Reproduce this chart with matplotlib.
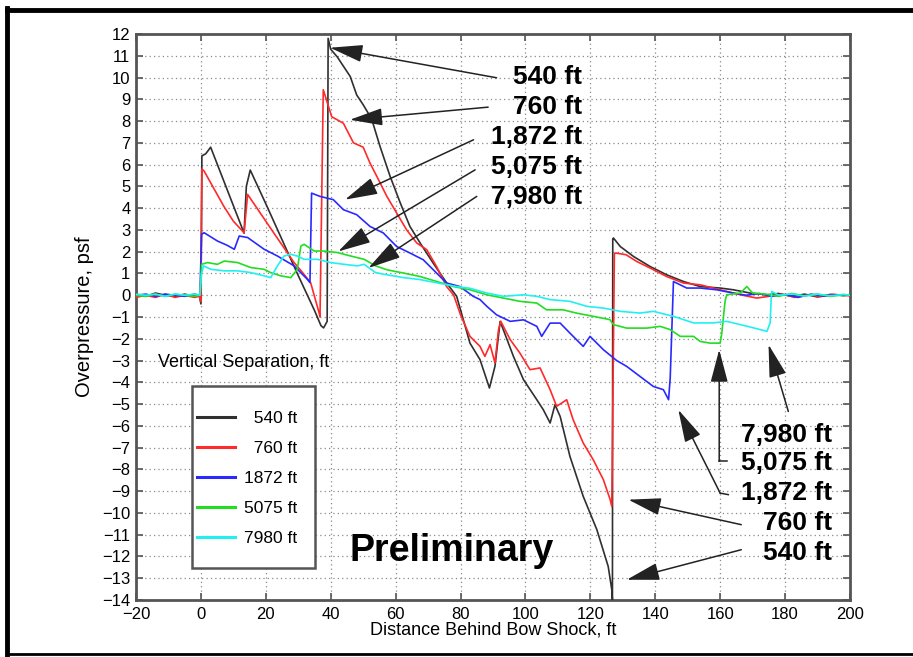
import matplotlib
matplotlib.use("Agg")
import matplotlib.pyplot as plt
from matplotlib.lines import Line2D
from matplotlib.patches import Rectangle

# ---------------- data ----------------
x_540 = [-20, -17, -14, -11, -8, -5, -2, -0.5, 0, 0.3, 1.5, 3, 6, 9, 12, 13.3, 14, 15.2, 20, 25, 30, 35, 37, 37.8,
         38.9, 39.2, 40, 42, 44, 46, 48, 50, 52.6, 55.2, 58.3, 61.4, 64.4, 67.5, 71.5, 75.7, 78.8, 81, 82.9, 86,
         88.9, 90.6, 92.2, 96.3, 99.4, 103.5, 105.5, 107.6, 109.1, 110.7, 113.7, 117.8, 122, 125.5, 126.6, 126.8,
         126.9, 127.1, 129.2, 133.3, 138.4, 143.5, 148.7, 153.8, 160, 164.1, 169.2, 174.4, 178, 182, 186, 190,
         194, 198, 200]
y_540 = [0.05, -0.05, 0.1, 0.0, -0.05, 0.05, -0.05, 0.0, -0.4, 6.4, 6.5, 6.8, 5.65, 4.5, 3.35, 2.85, 5.0, 5.75,
         4.2, 2.55, 0.9, -0.7, -1.4, -1.5, -1.2, 11.8, 11.3, 10.95, 10.5, 10.05, 9.2, 8.75, 8.1, 6.83, 5.46, 4.25,
         3.16, 2.41, 1.49, 0.57, -0.05, -1.2, -2.2, -2.96, -4.26, -3.27, -1.2, -2.81, -3.88, -4.8, -5.26, -5.87,
         -5.03, -5.57, -7.4, -9.24, -10.77, -12.46, -13.53, -14.0, 2.58, 2.63, 2.24, 1.78, 1.32, 0.94, 0.63, 0.40,
         0.33, 0.25, 0.1, 0.02, 0.08, -0.05, 0.05, -0.08, 0.04, -0.02, 0.03]

x_760 = [-20, -17, -14, -11, -8, -5, -2, -0.5, 0, 0.3, 1, 4, 7, 10, 13.3, 14.4, 18, 22, 26, 28.7, 31, 33.8, 36.4,
         36.7, 37.7, 40.3, 43.9, 47, 50, 52.1, 54.2, 57.3, 60.3, 63.4, 66.5, 69.6, 72.6, 75.7, 77.9, 80, 82.9, 86,
         87.5, 89.1, 90.6, 91.7, 92.4, 95.3, 98.3, 101.4, 104.5, 107.6, 109.6, 111.2, 112.7, 114.7, 117.8, 120.9,
         124, 126.1, 126.6, 127.4, 127.8, 131, 134.3, 138.4, 143.5, 148.7, 153.8, 160, 166.2, 171.3, 175, 179,
         183, 187, 191, 195, 200]
y_760 = [-0.1, 0.0, -0.1, 0.05, -0.1, 0.0, -0.1, -0.05, -0.3, 5.8, 5.7, 4.9, 4.1, 3.4, 2.87, 4.63, 3.84, 2.96,
         2.09, 1.5, 1.1, 0.58, -0.8, -1.0, 9.44, 8.2, 7.9, 7.0, 6.8, 6.07, 5.46, 4.54, 3.78, 3.0, 2.4, 2.09, 1.32,
         0.4, 0.0, -0.9, -1.89, -2.35, -2.81, -2.27, -3.11, -1.58, -1.2, -2.04, -2.66, -3.42, -3.34, -4.34, -5.1,
         -4.95, -4.8, -5.72, -6.79, -7.56, -8.47, -9.39, -9.7, 1.9, 1.94, 1.86, 1.55, 1.25, 0.86, 0.56, 0.48,
         0.25, 0.02, -0.13, -0.05, 0.05, -0.1, 0.02, -0.06, 0.04, -0.03]

x_1872 = [-20, -17, -14, -11, -8, -5, -2, -0.3, 0.2, 1, 5.1, 8, 10.3, 11.8, 14.4, 19.5, 23.6, 28.7, 32.8, 33.6,
          34.1, 36.7, 40.8, 43.9, 48, 52.1, 56.2, 60.3, 64.4, 68.5, 71.6, 75.7, 79.8, 83.9, 86, 88.1, 91.1, 95.3,
          99.4, 103.5, 105, 107.6, 110.7, 113.7, 117.8, 119.9, 124, 128.1, 131.2, 135.3, 139.4, 142.5, 144.1,
          144.6, 145.6, 149.7, 153.8, 158.9, 164.1, 168, 172, 176, 180, 184, 188, 192, 196, 200]
y_1872 = [0.0, 0.05, -0.05, 0.05, 0.0, -0.05, 0.05, 0.0, 2.8, 2.87, 2.49, 2.3, 2.11, 2.72, 2.65, 2.11, 1.8, 1.35,
          0.73, 0.58, 4.69, 4.54, 4.39, 3.93, 3.7, 3.16, 2.86, 2.24, 1.94, 1.63, 1.17, 0.56, 0.4, -0.05, -0.2,
          -0.51, -0.9, -1.2, -1.13, -1.43, -1.89, -1.28, -1.28, -1.74, -2.35, -1.89, -2.5, -3.0, -3.27, -3.73,
          -4.19, -4.34, -4.8, -3.8, 0.63, 0.33, 0.33, 0.25, 0.1, 0.0, 0.08, -0.05, 0.03, -0.1, 0.05, -0.04, 0.02,
          0.0]

x_5075 = [-20, -17, -14, -11, -8, -5, -2, -0.3, 0.2, 2, 5.1, 7.2, 11.3, 15.4, 19.5, 21.5, 24.6, 27.7, 29.7, 30.8,
          31.8, 34.9, 37.9, 42.1, 46.2, 50.3, 53.8, 57.3, 62.4, 67.5, 72.7, 77.8, 82.9, 88.1, 93.2, 98.3, 103.5,
          106.5, 111.6, 115.7, 120.9, 126, 127.1, 131.2, 137.4, 141.5, 144.6, 147.7, 151.8, 153.8, 156.9, 160,
          160.5, 161.5, 162, 166.2, 168.2, 170, 174, 178, 182, 186, 190, 194, 198, 200]
y_5075 = [0.0, -0.05, 0.05, -0.05, 0.05, 0.0, -0.05, 0.0, 1.42, 1.5, 1.42, 1.57, 1.5, 1.27, 1.19, 1.04, 0.89, 0.81,
          1.19, 2.26, 2.34, 2.03, 2.03, 1.96, 1.8, 1.65, 1.35, 1.17, 1.02, 0.86, 0.63, 0.40, 0.25, 0.02, -0.13,
          -0.28, -0.36, -0.67, -0.67, -0.82, -0.97, -1.12, -1.35, -1.51, -1.51, -1.43, -1.58, -1.89, -1.89, -2.12,
          -2.2, -2.2, -1.74, -0.28, 0.02, 0.1, 0.4, 0.1, 0.05, -0.05, 0.08, -0.03, 0.05, -0.05, 0.02, 0.0]

x_7980 = [-20, -17, -14, -11, -8, -5, -2, -0.3, 0.2, 0.8, 3.1, 7.2, 11.3, 15.4, 19.5, 21.5, 23.6, 25.6, 27.7, 29.7,
          31.8, 35.9, 40, 44.1, 48.2, 50.3, 53.8, 57.3, 62.4, 67.5, 72.7, 78.8, 82.9, 88.1, 93.2, 99.4, 103.5,
          107.6, 113.7, 118.9, 124, 129.2, 135.3, 139.4, 145.6, 151.8, 158, 162, 166.2, 170.3, 174.4, 175.4,
          175.7, 175.9, 178, 182, 186, 190, 194, 198, 200]
y_7980 = [0.05, 0.0, 0.05, -0.05, 0.05, 0.0, 0.05, 0.0, 1.0, 1.35, 1.19, 1.12, 1.12, 1.04, 0.89, 0.81, 1.35, 1.8,
          1.88, 1.8, 1.65, 1.65, 1.5, 1.42, 1.35, 1.42, 1.04, 0.94, 0.81, 0.72, 0.57, 0.40, 0.32, 0.10, -0.05,
          0.02, -0.05, -0.2, -0.28, -0.51, -0.59, -0.74, -0.82, -0.74, -0.97, -1.27, -1.27, -1.2, -1.35, -1.5,
          -1.66, -1.27, -0.2, 0.17, 0.0, 0.06, -0.04, 0.05, -0.03, 0.04, 0.0]

series_labels = ["  540 ft", "  760 ft", "1872 ft", "5075 ft", "7980 ft"]
series_colors = ["#303030", "#ff2a2a", "#2a2aff", "#22dd22", "#22f0f0"]

x_ticks = [-20, 0, 20, 40, 60, 80, 100, 120, 140, 160, 180, 200]
y_ticks = list(range(-14, 13))

# annotation labels: (text, label x, label y, tail x, tail y, tip x, tip y)
top_notes = [
    ("540 ft", 117.4, 10.04, 91.1, 9.99, 39.8, 11.37),
    ("760 ft", 117.4, 8.66, 88.5, 8.64, 45.9, 8.06),
    ("1,872 ft", 117.4, 7.28, 84.0, 7.14, 44.4, 4.39),
    ("5,075 ft", 117.4, 5.90, 84.5, 5.76, 42.3, 2.01),
    ("7,980 ft", 117.4, 4.52, 85.0, 4.54, 51.6, 1.25),
]
bottom_labels = ["7,980 ft", "5,075 ft", "1,872 ft", "760 ft", "540 ft"]
bottom_label_y = [-6.41, -7.71, -9.09, -10.46, -11.84]
bottom_label_x = 194.5

# ---------------- figure ----------------
narrow = ["Liberation Sans Narrow", "Liberation Sans", "DejaVu Sans"]
bold_font = ["Liberation Sans", "DejaVu Sans"]

fig = plt.figure(figsize=(9.13, 6.57), dpi=100)
ax = fig.add_axes([136 / 913, 1 - 600 / 657, 714 / 913, 566 / 657])

series = [(x_540, y_540), (x_760, y_760), (x_1872, y_1872), (x_5075, y_5075), (x_7980, y_7980)]
handles = []
for (xs, ys), c, lab in zip(series, series_colors, series_labels):
    h, = ax.plot(xs, ys, color=c, lw=1.2, label=lab, zorder=3)
    handles.append(h)

ax.set_xlim(-20, 200)
ax.set_ylim(-14, 12)
ax.set_xticks(x_ticks)
ax.set_yticks(y_ticks)
ax.set_xticklabels([str(v).replace("-", "\u2212") for v in x_ticks], family=narrow, fontsize=12)
ax.set_yticklabels([str(v).replace("-", "\u2212") for v in y_ticks], family=narrow, fontsize=12)
ax.tick_params(direction="in", top=True, right=True, length=5, width=1.2, color="#555555")
ax.tick_params(axis="x", pad=5)
ax.tick_params(axis="y", pad=4)
for s in ax.spines.values():
    s.set_color("#555555")
    s.set_linewidth(2)
ax.grid(True, linestyle=(0, (1, 2.5)), color="#8a8a8a", lw=0.9)
ax.set_axisbelow(True)

ax.set_xlabel("Distance Behind Bow Shock, ft", family=narrow, fontsize=13, labelpad=0)
ax.set_ylabel("Overpressure, psf", family=narrow, fontsize=14.5, labelpad=6)

ax.text(-13.2, -3.1, "Vertical Separation, ft", family=narrow, fontsize=13, va="center", ha="left")

# legend box (frame drawn as a patch, entries via the legend)
ax.add_patch(Rectangle((0.078, 0.056), 0.173, 0.322, transform=ax.transAxes, facecolor="white",
                       edgecolor="#555555", lw=1.8, zorder=4))
leg = ax.legend(handles=handles, loc="upper left", bbox_to_anchor=(0.0854, 0.334),
                borderaxespad=0, borderpad=0, frameon=False, handlelength=2.2,
                handletextpad=0.5, labelspacing=0.85, prop={"family": narrow, "size": 12.5})
leg.set_zorder(5)
for ln in leg.get_lines():
    ln.set_linewidth(2.2)

ax.text(45.8, -11.75, "Preliminary", family=bold_font, fontsize=27, weight="bold", ha="left", va="center")

arrow_kw = dict(arrowstyle="-|>,head_length=1.7,head_width=0.45", color="#222222", lw=1.1,
                shrinkA=0, shrinkB=0, mutation_scale=12)

for txt, lx, ly, tx, ty, px, py in top_notes:
    ax.text(lx, ly, txt, family=bold_font, fontsize=19, weight="bold", ha="right", va="center")
    ax.annotate("", xy=(px, py), xytext=(tx, ty), arrowprops=arrow_kw)

for txt, ly in zip(bottom_labels, bottom_label_y):
    ax.text(bottom_label_x, ly, txt, family=bold_font, fontsize=19, weight="bold", ha="right", va="center")

# bottom arrows
ax.annotate("", xy=(174.9, -2.27), xytext=(181.0, -5.34), arrowprops=arrow_kw)
ax.plot([162.0, 159.7], [-7.63, -7.63], color="#222222", lw=1.1)
ax.annotate("", xy=(159.7, -2.5), xytext=(159.7, -7.63), arrowprops=arrow_kw)
ax.plot([162.5, 160.0], [-9.16, -9.09], color="#222222", lw=1.1)
ax.annotate("", xy=(147.1, -5.26), xytext=(160.0, -9.09), arrowprops=arrow_kw)
ax.annotate("", xy=(131.7, -9.39), xytext=(166.5, -10.54), arrowprops=arrow_kw)
ax.annotate("", xy=(131.2, -13.07), xytext=(166.5, -11.69), arrowprops=arrow_kw)

# outer frame
fig.add_artist(Line2D([7 / 913, 7 / 913], [0, 1 - 8 / 657], transform=fig.transFigure, color="black", lw=3.5))
fig.add_artist(Line2D([7 / 913, 1], [1 - 10 / 657, 1 - 10 / 657], transform=fig.transFigure, color="black", lw=3.5))
fig.add_artist(Line2D([7 / 913, 1], [3 / 657, 3 / 657], transform=fig.transFigure, color="black", lw=2))

fig.savefig("out.png", dpi=100)
